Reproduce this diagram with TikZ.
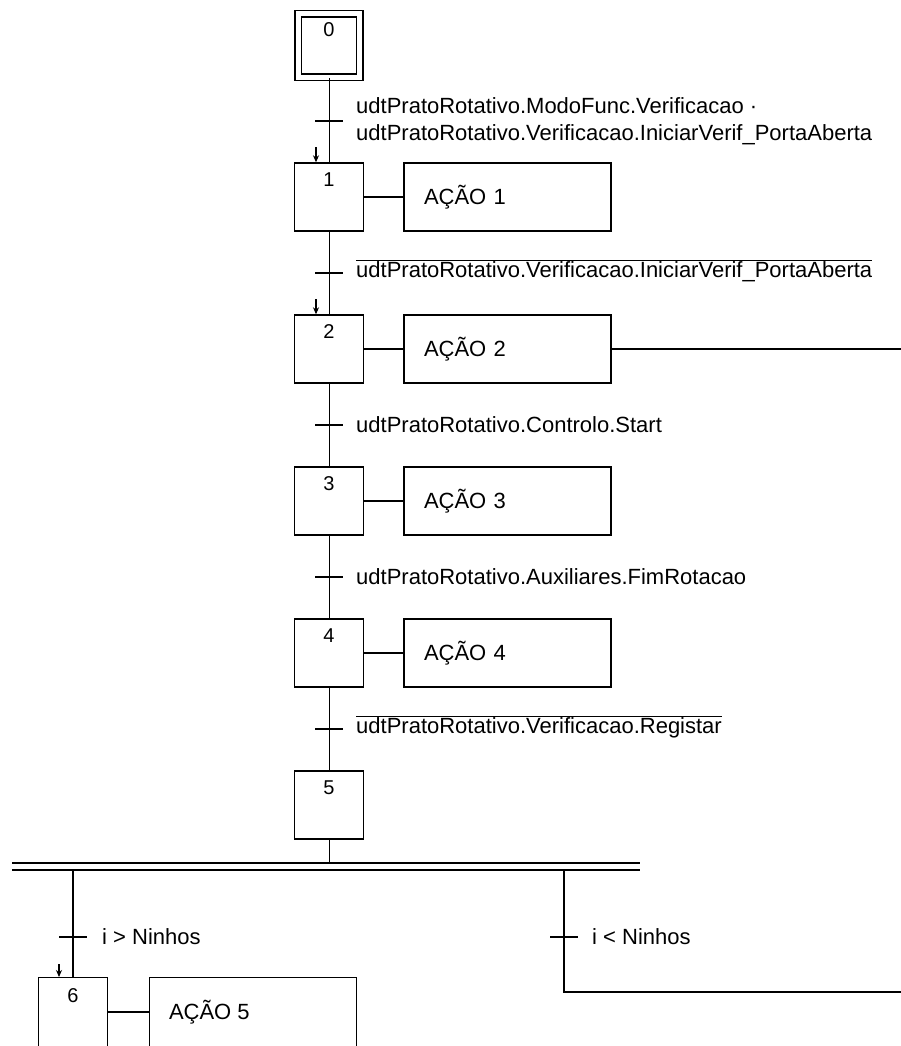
\documentclass[tikz,border=0pt]{standalone}
\usepackage{fontspec}
\setmainfont{Liberation Sans}
\usetikzlibrary{arrows.meta}
\begin{document}
\begin{tikzpicture}[x=1pt,y=-1pt,
  every node/.style={font=\fontsize{22}{27}\selectfont},
  stepbox/.style={draw,line width=1.4pt,minimum width=69pt,minimum height=68pt,inner sep=0pt},
  initbox/.style={draw,line width=1.4pt,double,double distance=5pt,minimum width=61.5pt,minimum height=63.5pt,inner sep=0pt},
  actbox/.style={draw,line width=1.4pt,minimum height=68pt,text width=167pt,inner xsep=20pt,inner ysep=0pt,align=left},
  num/.style={anchor=north,inner sep=0pt,font=\fontsize{20}{24}\selectfont},
  trans/.style={fill,minimum width=28pt,minimum height=1.3pt,inner sep=0pt},
  cond/.style={anchor=west,inner sep=0pt,align=left},
  link/.style={line width=0.8pt},
  blink/.style={line width=1.3pt},
  alink/.style={line width=1.2pt},
  tick/.style={-{Stealth[length=7pt,width=6pt]},line width=1.1pt}]
\useasboundingbox (0,0) rectangle (901,1046);
\clip (0,0) rectangle (901,1046);

% steps
\node[initbox] (s0) at (329,45.5) {};
\node[num] at ([yshift=-9pt]s0.north) {0};
\node[stepbox] (s1) at (329,197) {};
\node[num] at ([yshift=-10pt]s1.north) {1};
\node[stepbox] (s2) at (329,349) {};
\node[num] at ([yshift=-10pt]s2.north) {2};
\node[stepbox] (s3) at (329,501) {};
\node[num] at ([yshift=-10pt]s3.north) {3};
\node[stepbox] (s4) at (329,653) {};
\node[num] at ([yshift=-10pt]s4.north) {4};
\node[stepbox] (s5) at (329,805) {};
\node[num] at ([yshift=-10pt]s5.north) {5};
\node[stepbox,minimum height=90pt,anchor=north] (s6) at (73,977) {};
\node[num] at ([yshift=-11pt]s6.north) {6};

% actions
\node[actbox] (a1) at (507.5,197) {AÇÃO 1};
\node[actbox] (a2) at (507.5,349) {AÇÃO 2};
\node[actbox] (a3) at (507.5,501) {AÇÃO 3};
\node[actbox] (a4) at (507.5,653) {AÇÃO 4};
\node[actbox,minimum height=90pt,anchor=north] (a5) at (253,977) {};
\node[anchor=west,inner sep=0pt] (a5t) at ([xshift=20pt,yshift=-35pt]a5.north west) {AÇÃO 5};

% transitions
\node[trans] (t01) at (329,121) {};
\node[trans] (t12) at (329,273) {};
\node[trans] (t23) at (329,425) {};
\node[trans] (t34) at (329,577) {};
\node[trans] (t45) at (329,729) {};
\node[trans] (t56) at (73,937) {};
\node[trans] (t5x) at (564,937) {};

% conditions
\node[cond] (c01) at (356,121) {udtPratoRotativo.ModoFunc.Verificacao ·\\udtPratoRotativo.Verificacao.IniciarVerif\_PortaAberta};
\node[cond] (c12) at (356,271) {$\overline{\mbox{udtPratoRotativo.Verificacao.IniciarVerif\_PortaAberta}}$};
\node[cond] (c23) at (356,425) {udtPratoRotativo.Controlo.Start};
\node[cond] (c34) at (356,577) {udtPratoRotativo.Auxiliares.FimRotacao};
\node[cond] (c45) at (356,727) {$\overline{\mbox{udtPratoRotativo.Verificacao.Registar}}$};
\node[cond] (c56) at (102,937) {i > Ninhos};
\node[cond] (c5x) at (592,937) {i < Ninhos};

% links between steps
\draw[link] (s0) -- (s1);
\draw[link] (s1) -- (s2);
\draw[link] (s2) -- (s3);
\draw[link] (s3) -- (s4);
\draw[link] (s4) -- (s5);

% small arrows
\draw[tick] ([xshift=-13pt,yshift=15pt]s1.north) -- ([xshift=-13pt]s1.north);
\draw[tick] ([xshift=-13pt,yshift=15pt]s2.north) -- ([xshift=-13pt]s2.north);
\draw[tick] ([xshift=-14pt,yshift=13pt]s6.north) -- ([xshift=-14pt]s6.north);

% step-action links
\draw[alink] (s1) -- (a1);
\draw[alink] (s2) -- (a2);
\draw[alink] (s3) -- (a3);
\draw[alink] (s4) -- (a4);
\draw[alink] (s6.east |- a5t.west) -- (a5.west |- a5t.west);
\coordinate (a2end) at (901,349);
\draw[alink] (a2) -- (a2end);

% selection divergence (double line)
\coordinate (dtop) at (329,863);
\coordinate (dl) at (73,870);
\coordinate (dr) at (564,870);
\coordinate (rend) at (901,992);
\draw[line width=1.5pt] (12,863) -- (640,863);
\draw[line width=1.5pt] (12,870) -- (640,870);
\draw[link] (s5) -- (dtop);
\draw[blink] (dl) -- (s6);
\draw[blink] (dr) |- (rend);
\end{tikzpicture}
\end{document}
